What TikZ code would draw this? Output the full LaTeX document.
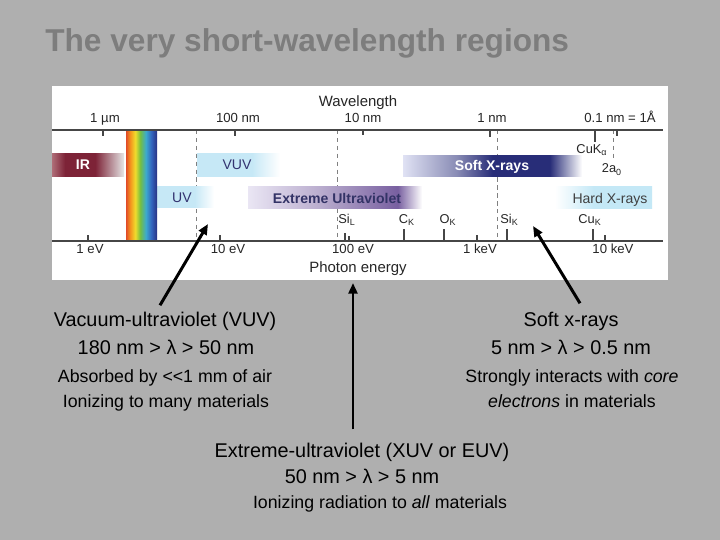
\documentclass[tikz,border=0pt]{standalone}
\usepackage{fontspec}
\setmainfont{Liberation Sans}
\usetikzlibrary{arrows.meta}

\definecolor{slidegray}{RGB}{175,175,175}
\definecolor{titlegray}{RGB}{125,125,125}
\definecolor{axisgray}{RGB}{70,70,70}
\definecolor{irdark}{RGB}{125,35,55}
\definecolor{irlight}{RGB}{175,110,120}
\definecolor{uvblue}{RGB}{198,232,246}
\definecolor{euvlight}{RGB}{234,230,244}
\definecolor{euvdark}{RGB}{120,95,160}
\definecolor{sxrlight}{RGB}{224,226,244}
\definecolor{sxrdark}{RGB}{40,45,120}
\definecolor{hxrblue}{RGB}{196,232,246}
\definecolor{rbred}{RGB}{225,75,40}
\definecolor{rborange}{RGB}{245,150,30}
\definecolor{rbyellow}{RGB}{240,220,45}
\definecolor{rbgreen}{RGB}{115,190,65}
\definecolor{rbcyan}{RGB}{60,170,205}
\definecolor{rbblue}{RGB}{50,100,190}
\definecolor{rbdark}{RGB}{40,50,130}

% horizontal shadings for the spectral bands
\pgfdeclarehorizontalshading{rainbow}{100bp}{color(0bp)=(rbred); color(25bp)=(rbred);
  color(32bp)=(rborange); color(40bp)=(rbyellow); color(48bp)=(rbgreen);
  color(57bp)=(rbcyan); color(66bp)=(rbblue); color(75bp)=(rbdark); color(100bp)=(rbdark)}
\pgfdeclarehorizontalshading{irband}{100bp}{color(0bp)=(irlight); color(25bp)=(irlight);
  color(34bp)=(irdark); color(55bp)=(irdark); color(75bp)=(white!90!black); color(100bp)=(white!90!black)}
\pgfdeclarehorizontalshading{uvband}{100bp}{color(0bp)=(uvblue); color(25bp)=(uvblue);
  color(58bp)=(uvblue); color(75bp)=(white); color(100bp)=(white)}
\pgfdeclarehorizontalshading{euvband}{100bp}{color(0bp)=(euvlight); color(25bp)=(euvlight);
  color(45bp)=(euvdark!50!white); color(68bp)=(euvdark); color(75bp)=(white); color(100bp)=(white)}
\pgfdeclarehorizontalshading{sxrband}{100bp}{color(0bp)=(sxrlight); color(25bp)=(sxrlight);
  color(40bp)=(sxrdark!55!white); color(50bp)=(sxrdark); color(66bp)=(sxrdark); color(75bp)=(white); color(100bp)=(white)}
\pgfdeclarehorizontalshading{hxrband}{100bp}{color(0bp)=(white); color(25bp)=(white);
  color(45bp)=(hxrblue); color(75bp)=(hxrblue); color(100bp)=(hxrblue)}

\begin{document}
\begin{tikzpicture}[x=0.02cm, y=-0.02cm,
  every node/.style={inner sep=0pt},
  title/.style={font=\bfseries\fontsize{18}{21}\selectfont, text=titlegray},
  axislbl/.style={font=\fontsize{7.5}{9}\selectfont, text=black!85, anchor=base},
  axisname/.style={font=\fontsize{8.5}{10}\selectfont, text=black!85, anchor=base},
  elem/.style={font=\fontsize{7.3}{9}\selectfont, text=black!85, anchor=base},
  bandbold/.style={font=\bfseries\fontsize{8}{10}\selectfont, anchor=base},
  bandplain/.style={font=\fontsize{8}{10}\selectfont, anchor=base},
  guide/.style={dashed, gray, line width=0.5pt, dash pattern=on 2.5pt off 2pt},
  axis/.style={axisgray, line width=0.6pt},
  bigline/.style={font=\fontsize{11.3}{13}\selectfont, anchor=base},
  smallline/.style={font=\fontsize{10.1}{12}\selectfont, anchor=base},
  pointer/.style={line width=1.7pt, -{Triangle[length=6pt,width=5pt]}}]

  % slide and scanned panel
  \useasboundingbox[fill=slidegray] (0,0) rectangle (720,540);
  \node[title, anchor=base west] (title) at (45,52) {The very short-wavelength regions};
  \fill[white] (52,86) rectangle (668,280);

  % dashed guides
  \foreach \x in {196,337,497} \draw[guide] (\x,130) -- (\x,241);
  \draw[guide] (613,130) -- (613,160);

  % bands
  \fill[shading=irband] (52,154) rectangle (124,177);
  \fill[shading=uvband] (197,154) rectangle (280,177);
  \fill[shading=sxrband] (403,156) rectangle (582,177);
  \fill[shading=uvband] (157,187) rectangle (214,208);
  \fill[shading=euvband] (248,187) rectangle (422,209);
  \fill[shading=hxrband] (555,187) rectangle (652,209);
  \fill[shading=rainbow] (126,130) rectangle (157,241);

  \node[bandbold, text=white] (ir) at (83,170) {IR};
  \node[bandplain, text=black!70!blue!80] (vuv) at (237,170) {VUV};
  \node[bandbold, text=white] (sxr) at (492,171) {Soft X-rays};
  \node[bandplain, text=black!70!blue!80] (uv) at (182,203) {UV};
  \node[bandbold, text=black!75!blue!80] (euv) at (337,204) {Extreme Ultraviolet};
  \node[bandplain, text=black!75] (hxr) at (610,204) {Hard X-rays};

  % axes and ticks
  \draw[axis] (52,130) -- (663,130);
  \draw[axis] (52,241) -- (663,241);
  \foreach \x/\l in {103/6,235/6,363/5,490/7,595/12,617/6}
    \draw[axis] (\x,130) -- ++(0,\l);
  \foreach \x/\l in {88/6,220/6,345/8,349/5,404/12,444/12,477/6,507/12,593/12,605/6}
    \draw[axis] (\x,241) -- ++(0,-\l);

  % wavelength scale
  \node[axisname] (wl) at (358,107) {Wavelength};
  \node[axislbl] (wl1) at (105,123) {1 µm};
  \node[axislbl] (wl2) at (238,123) {100 nm};
  \node[axislbl] (wl3) at (363,123) {10 nm};
  \node[axislbl] (wl4) at (492,123) {1 nm};
  \node[axislbl] (wl5) at (620,123) {0.1 nm = 1Å};
  \node[elem] (cuka) at (592,154) {CuK\textsubscript{α}};
  \node[elem] (bohr) at (612,173) {2a\textsubscript{0}};

  % energy scale
  \node[axislbl] (en1) at (90,254) {1 eV};
  \node[axislbl] (en2) at (228,254) {10 eV};
  \node[axislbl] (en3) at (353,254) {100 eV};
  \node[axislbl] (en4) at (480,254) {1 keV};
  \node[axislbl] (en5) at (613,254) {10 keV};
  \node[axisname] (pe) at (358,273) {Photon energy};
  \node[elem, anchor=base west] (sil) at (338,224) {Si\textsubscript{L}};
  \node[elem] (ck) at (407,224) {C\textsubscript{K}};
  \node[elem] (ok) at (448,224) {O\textsubscript{K}};
  \node[elem, anchor=base west] (sik) at (500,224) {Si\textsubscript{K}};
  \node[elem] (cuk) at (590,224) {Cu\textsubscript{K}};

  % descriptions
  \node[bigline] (vuvname) at (165,327) {Vacuum-ultraviolet (VUV)};
  \node[bigline] (vuvrange) at (166,355) {180 nm > λ > 50 nm};
  \node[smallline] (vuvair) at (165,382) {Absorbed by <\kern0pt<1 mm of air};
  \node[smallline] (vuvion) at (166,407) {Ionizing to many materials};

  \node[bigline] (sxrname) at (571,327) {Soft x-rays};
  \node[bigline] (sxrrange) at (571,355) {5 nm > λ > 0.5 nm};
  \node[smallline] (sxrcore) at (572,382) {Strongly interacts with \textit{core}};
  \node[smallline] (sxrelec) at (572,407) {\textit{electrons} in materials};

  \node[bigline] (euvname) at (362,458) {Extreme-ultraviolet (XUV or EUV)};
  \node[bigline] (euvrange) at (362,483) {50 nm > λ > 5 nm};
  \node[smallline] (euvion) at (380,508) {Ionizing radiation to \textit{all} materials};

  % pointers into the chart
  \coordinate (vuvtail) at ([shift={(-5,-7)}]vuvname.north);
  \coordinate (vuvhead) at (208,224);
  \coordinate (euvtail) at ([shift={(-9,-14)}]euvname.north);
  \coordinate (euvhead) at (353,283);
  \coordinate (sxrtail) at ([shift={(9,-9)}]sxrname.north);
  \coordinate (sxrhead) at (533,226);
  \draw[pointer] (vuvtail) -- (vuvhead);
  \draw[pointer] (euvtail) -- (euvhead);
  \draw[pointer] (sxrtail) -- (sxrhead);
\end{tikzpicture}
\end{document}
